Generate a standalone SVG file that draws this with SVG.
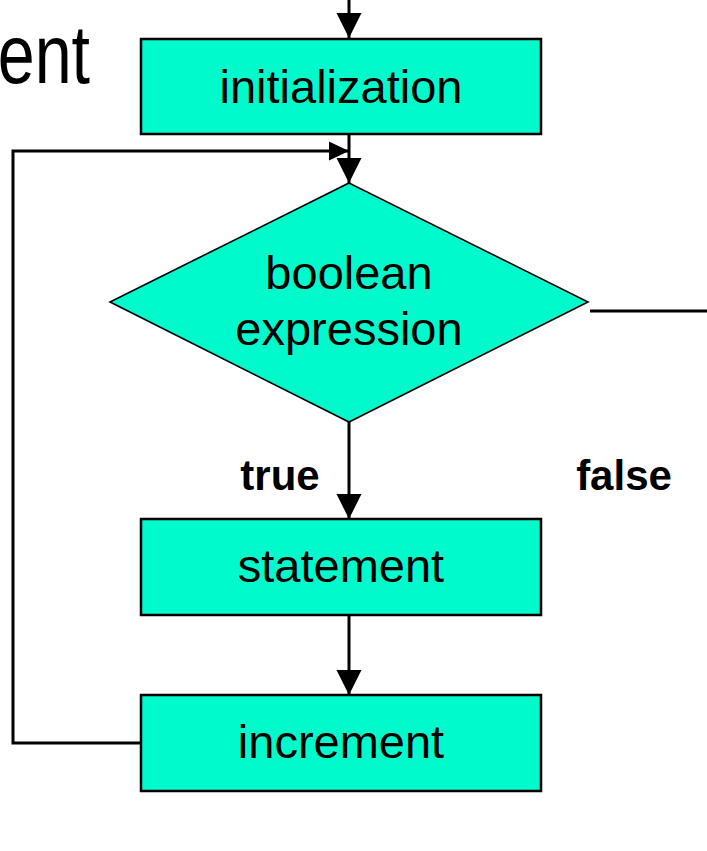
<svg xmlns="http://www.w3.org/2000/svg" width="707" height="851" viewBox="0 0 707 851">
  <style>
    .box { fill: #00FACB; stroke: #000; stroke-width: 2.5; }
    .dia { fill: #00FACB; stroke: #000; stroke-width: 1.6; }
    .wire { fill: none; stroke: #000; stroke-width: 3; }
    .lbl { font-family: "Liberation Sans", Arial, sans-serif; font-size: 47px; fill: #000; text-anchor: middle; }
    .tag { font-family: "Liberation Sans", Arial, sans-serif; font-size: 42px; font-weight: bold; fill: #000; text-anchor: middle; }
    .title { font-family: "Liberation Sans", Arial, sans-serif; font-size: 83px; fill: #000; text-anchor: end; }
  </style>
  <defs>
    <marker id="head" markerUnits="userSpaceOnUse" markerWidth="26" markerHeight="26" refX="25" refY="12.5" orient="auto" overflow="visible">
      <path d="M0,0 L25,12.5 L0,25 Z" fill="#000"/>
    </marker>
    <marker id="headSmall" markerUnits="userSpaceOnUse" markerWidth="21" markerHeight="20" refX="20" refY="9.5" orient="auto" overflow="visible">
      <path d="M0,0 L20,9.5 L0,19 Z" fill="#000"/>
    </marker>
  </defs>

  <!-- trailing part of the slide heading, running off the left edge -->
  <text class="title" transform="translate(90,83) scale(0.8,1)">ent</text>

  <!-- connectors -->
  <g id="connectors">
    <line class="wire" x1="349" y1="0" x2="349" y2="38" marker-end="url(#head)"/>
    <line class="wire" x1="349" y1="134" x2="349" y2="183" marker-end="url(#head)"/>
    <polyline class="wire" points="141,743 13,743 13,151 349,151" marker-end="url(#headSmall)"/>
    <line class="wire" x1="349" y1="422" x2="349" y2="519" marker-end="url(#head)"/>
    <line class="wire" x1="590" y1="311" x2="707" y2="311"/>
    <line class="wire" x1="349" y1="615" x2="349" y2="695" marker-end="url(#head)"/>
  </g>

  <g id="initialization">
    <rect class="box" x="141" y="39" width="400" height="95"/>
    <text class="lbl" x="341" y="103">initialization</text>
  </g>

  <g id="condition">
    <polygon class="dia" points="349,183 588,302 349,422 110,302"/>
    <text class="lbl" x="349" y="289">boolean</text>
    <text class="lbl" x="349" y="345">expression</text>
  </g>

  <g id="label-true">
    <text class="tag" x="280" y="490">true</text>
  </g>
  <g id="label-false">
    <text class="tag" x="624" y="490">false</text>
  </g>

  <g id="statement">
    <rect class="box" x="141" y="519" width="400" height="96"/>
    <text class="lbl" x="341" y="582">statement</text>
  </g>

  <g id="increment">
    <rect class="box" x="141" y="695" width="400" height="96"/>
    <text class="lbl" x="341" y="758">increment</text>
  </g>
</svg>
